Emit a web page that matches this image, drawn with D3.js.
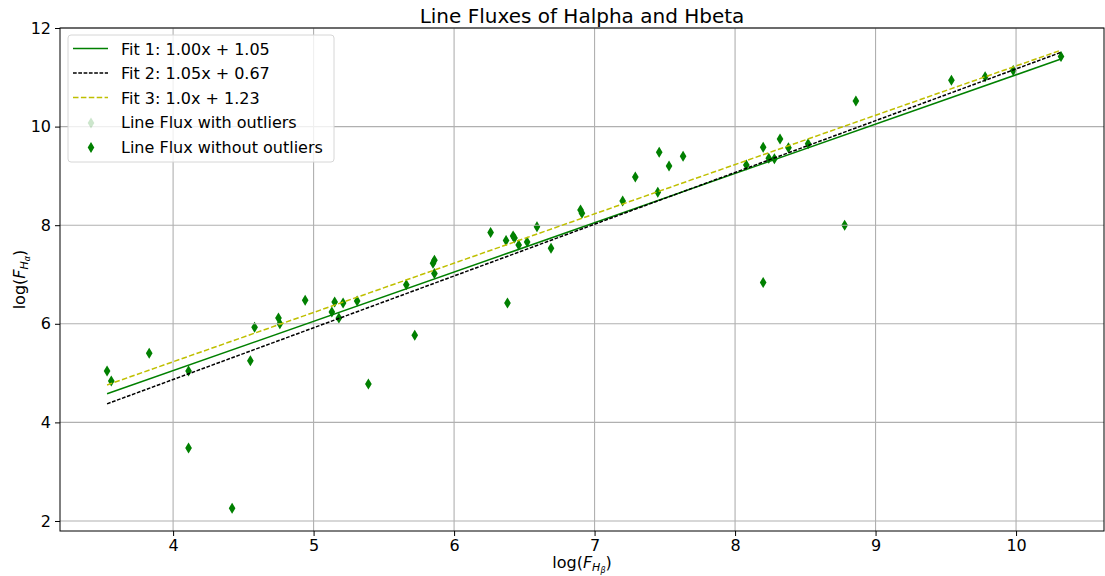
<!DOCTYPE html>
<html>
<head>
<meta charset="utf-8">
<script src="https://cdn.jsdelivr.net/npm/d3@7"></script>
<style>
  body { margin: 0; background: #fff; }
  svg text { font-family: "DejaVu Sans", sans-serif; }
</style>
</head>
<body>
<div id="chart"></div>
<script>
// log(F_Hbeta) values
const hbeta = [3.53, 3.56, 3.83, 4.11, 4.11, 4.42, 4.55, 4.58, 4.75, 4.76,
    4.94, 5.13, 5.15, 5.18, 5.21, 5.31, 5.39, 5.66, 5.72, 5.85,
    5.86, 5.86, 6.26, 6.37, 6.38, 6.42, 6.43, 6.46, 6.52, 6.59,
    6.69, 6.90, 6.91, 7.20, 7.29, 7.45, 7.46, 7.53, 7.63, 8.08,
    8.20, 8.20, 8.24, 8.28, 8.32, 8.38, 8.52, 8.78, 8.86, 9.54,
    9.78, 9.98, 10.32];
// log(F_Halpha) values
const halpha = [5.04, 4.84, 5.40, 5.04, 3.48, 2.26, 5.25, 5.93, 6.12, 6.00,
    6.48, 6.24, 6.44, 6.12, 6.42, 6.46, 4.78, 6.79, 5.77, 7.23,
    7.29, 7.02, 7.85, 7.69, 6.42, 7.78, 7.74, 7.60, 7.66, 7.97,
    7.53, 8.31, 8.24, 8.49, 8.98, 8.67, 9.48, 9.20, 9.40, 9.22,
    9.58, 6.84, 9.36, 9.35, 9.75, 9.57, 9.65, 8.00, 10.52, 10.94,
    11.01, 11.14, 11.42];

const fitNames = ["Fit 1: 1.00x + 1.05", "Fit 2: 1.05x + 0.67", "Fit 3: 1.0x + 1.23"];
const fitSlopes = [1.00, 1.05, 1.00];
const fitIntercepts = [1.05, 0.67, 1.23];
const fitColors = ["#008000", "#000000", "#bfbf00"];
const fitDashes = [null, "3.7,1.6", "5.5,2.4"];

const xTicks = [4, 5, 6, 7, 8, 9, 10];
const yTicks = [2, 4, 6, 8, 10, 12];

const W = 1105, H = 576;
const margin = { top: 28, right: 1, bottom: 45, left: 60 };
const width = W - margin.left - margin.right;
const height = H - margin.top - margin.bottom;

const svg = d3.select("#chart").append("svg")
    .attr("width", W)
    .attr("height", H);

const g = svg.append("g")
    .attr("transform", `translate(${margin.left}, ${margin.top})`);

const x = d3.scaleLinear().domain([3.195, 10.626]).range([0, width]);
const y = d3.scaleLinear().domain([1.797, 12]).range([height, 0]);

const points = hbeta.map((d, i) => ({ x: d, y: halpha[i] }));

// diamond marker (thin)
const diamond = "M0,-5.5L3.3,0L0,5.5L-3.3,0Z";

// points with outliers (light), then without (dark)
g.append("g").selectAll("path")
    .data(points)
    .join("path")
    .attr("d", diamond)
    .attr("transform", d => `translate(${x(d.x)},${y(d.y)})`)
    .attr("fill", "#008000")
    .attr("opacity", 0.2);

g.append("g").selectAll("path")
    .data(points)
    .join("path")
    .attr("d", diamond)
    .attr("transform", d => `translate(${x(d.x)},${y(d.y)})`)
    .attr("fill", "#008000");

// grid on top of scatter (matplotlib order)
g.append("g").selectAll("line")
    .data(xTicks)
    .join("line")
    .attr("x1", d => x(d)).attr("x2", d => x(d))
    .attr("y1", 0).attr("y2", height)
    .attr("stroke", "#b0b0b0").attr("stroke-width", 1.1);

g.append("g").selectAll("line")
    .data(yTicks)
    .join("line")
    .attr("x1", 0).attr("x2", width)
    .attr("y1", d => y(d)).attr("y2", d => y(d))
    .attr("stroke", "#b0b0b0").attr("stroke-width", 1.1);

// fit lines
const xMin = d3.min(hbeta), xMax = d3.max(hbeta);
const line = d3.line().x(d => x(d[0])).y(d => y(d[1]));
fitNames.forEach((name, i) => {
    const pts = [xMin, xMax].map(v => [v, fitSlopes[i] * v + fitIntercepts[i]]);
    g.append("path")
        .datum(pts)
        .attr("d", line)
        .attr("fill", "none")
        .attr("stroke", fitColors[i])
        .attr("stroke-width", 1.5)
        .attr("stroke-dasharray", fitDashes[i]);
});

// axes
const xAxis = g.append("g")
    .attr("transform", `translate(0, ${height})`)
    .call(d3.axisBottom(x).tickValues(xTicks).tickSize(5).tickPadding(4));
const yAxis = g.append("g")
    .call(d3.axisLeft(y).tickValues(yTicks).tickSize(5).tickPadding(4));
[xAxis, yAxis].forEach(a => {
    a.selectAll("text").attr("font-size", 16).attr("fill", "#000")
        .attr("font-family", "DejaVu Sans");
    a.select(".domain").remove();
    a.selectAll(".tick line").attr("stroke", "#000").attr("stroke-width", 1);
});

// spines
g.append("rect")
    .attr("x", 0).attr("y", 0)
    .attr("width", width).attr("height", height)
    .attr("fill", "none").attr("stroke", "#000").attr("stroke-width", 1);

// title
svg.append("text")
    .attr("x", margin.left + width / 2)
    .attr("y", 23)
    .attr("text-anchor", "middle")
    .attr("font-size", 20)
    .text("Line Fluxes of Halpha and Hbeta");

// x label: log(F_{H_beta})
const xl = svg.append("text")
    .attr("x", margin.left + width / 2)
    .attr("y", 568)
    .attr("text-anchor", "middle")
    .attr("font-size", 16);
xl.append("tspan").text("log(");
xl.append("tspan").attr("font-style", "italic").text("F");
xl.append("tspan").attr("font-size", 11).attr("dy", 3).attr("font-style", "italic").text("H");
xl.append("tspan").attr("font-size", 8).attr("dy", 2).attr("font-style", "italic").text("β");
xl.append("tspan").attr("dy", -5).text(")");

// y label: log(F_{H_alpha})
const yl = svg.append("text")
    .attr("transform", `translate(25, ${margin.top + height / 2}) rotate(-90)`)
    .attr("text-anchor", "middle")
    .attr("font-size", 16);
yl.append("tspan").text("log(");
yl.append("tspan").attr("font-style", "italic").text("F");
yl.append("tspan").attr("font-size", 11).attr("dy", 3).attr("font-style", "italic").text("H");
yl.append("tspan").attr("font-size", 8).attr("dy", 2).attr("font-style", "italic").text("α");
yl.append("tspan").attr("dy", -5).text(")");

// legend
const legend = svg.append("g").attr("transform", "translate(68, 35)");
legend.append("rect")
    .attr("width", 266).attr("height", 127)
    .attr("rx", 3)
    .attr("fill", "#fff").attr("fill-opacity", 0.8)
    .attr("stroke", "#d6d6d6");

const rowY = i => 13.5 + i * 24.5;
fitNames.forEach((name, i) => {
    legend.append("line")
        .attr("x1", 5).attr("x2", 40)
        .attr("y1", rowY(i)).attr("y2", rowY(i))
        .attr("stroke", fitColors[i])
        .attr("stroke-width", 1.5)
        .attr("stroke-dasharray", fitDashes[i]);
    legend.append("text")
        .attr("x", 53).attr("y", rowY(i) + 6)
        .attr("font-size", 16)
        .text(name);
});
const scatterNames = ["Line Flux with outliers", "Line Flux without outliers"];
scatterNames.forEach((name, j) => {
    const i = j + 3;
    legend.append("path")
        .attr("d", diamond)
        .attr("transform", `translate(23, ${rowY(i) + 1})`)
        .attr("fill", "#008000")
        .attr("opacity", j === 0 ? 0.2 : 1);
    legend.append("text")
        .attr("x", 53).attr("y", rowY(i) + 6)
        .attr("font-size", 16)
        .text(name);
});
</script>
</body>
</html>
